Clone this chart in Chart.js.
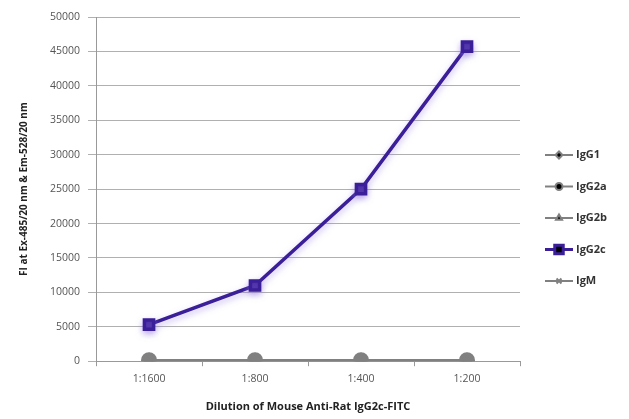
<!DOCTYPE html>
<html>
<head>
<meta charset="utf-8">
<script src="https://cdn.jsdelivr.net/npm/chart.js@4.4.0/dist/chart.umd.min.js"></script>
<style>
  html, body { margin: 0; padding: 0; background: #fff; }
  #wrap { width: 629px; height: 419px; }
</style>
</head>
<body>
<div id="wrap"><canvas id="chart1"></canvas></div>
<script>
// dilutions on the x axis
const dilutions = ['1:1600', '1:800', '1:400', '1:200'];

// fluorescence intensity per isotype
const igG1 = [150, 150, 150, 150];
const igG2a = [150, 150, 150, 150];
const igG2b = [150, 150, 150, 150];
const igG2c = [5300, 11000, 25000, 45700];
const igM = [150, 150, 150, 150];

const grey = '#808080';
const purple = '#3a1f98';

/** legend drawn at the right, line + marker + label */
const sideLegend = {
    id: 'sideLegend',
    afterDraw(chart) {
        const ctx = chart.ctx;
        const x0 = 545;
        let y = 155;
        chart.data.datasets.forEach(ds => {
            ctx.save();
            ctx.strokeStyle = ds.borderColor;
            ctx.lineWidth = ds.label === 'IgG2c' ? 3 : 2;
            ctx.beginPath();
            ctx.moveTo(x0, y);
            ctx.lineTo(x0 + 28, y);
            ctx.stroke();
            Chart.helpers.drawPoint(ctx, {
                pointStyle: ds.pointStyle,
                radius: ds.label === 'IgG2c' ? 6 : 3.5,
                rotation: 0,
                borderWidth: 1
            }, x0 + 14, y);
            ctx.fillStyle = '#333';
            ctx.font = 'bold 11px "Open Sans", sans-serif';
            ctx.textBaseline = 'middle';
            ctx.fillText(ds.label, x0 + 31, y);
            ctx.restore();
            y += 31.5;
        });
    }
};

/** soft lavender glow under the purple line */
const glow = {
    id: 'glow',
    beforeDatasetDraw(chart, args) {
        if (chart.data.datasets[args.index].label === 'IgG2c') {
            chart.ctx.save();
            chart.ctx.shadowColor = 'rgba(150,120,225,0.5)';
            chart.ctx.shadowBlur = 6;
            chart.ctx.shadowOffsetY = 3;
        }
    },
    afterDatasetDraw(chart, args) {
        if (chart.data.datasets[args.index].label === 'IgG2c') {
            chart.ctx.restore();
        }
    }
};

const ctx1 = document.getElementById('chart1').getContext('2d');

function series(label, data, color, style, radius) {
    return {
        label: label,
        data: data,
        borderColor: color,
        backgroundColor: color,
        pointBackgroundColor: color,
        pointBorderColor: color,
        pointStyle: style,
        pointRadius: radius,
        borderWidth: 2,
        tension: 0
    };
}

const myChart = new Chart(ctx1, {
    type: 'line',
    data: {
        labels: dilutions,
        datasets: [
            series('IgG1', igG1, grey, 'rectRot', 6),
            series('IgG2a', igG2a, grey, 'circle', 7),
            series('IgG2b', igG2b, grey, 'triangle', 6),
            Object.assign(series('IgG2c', igG2c, purple, 'rect', 6.5), { borderWidth: 3.5 }),
            series('IgM', igM, grey, 'crossRot', 6)
        ]
    },
    plugins: [sideLegend, glow],
    options: {
        responsive: true,
        maintainAspectRatio: false,
        animation: false,
        layout: { padding: { top: 17, right: 109, left: 14, bottom: 2 } },
        plugins: {
            legend: { display: false },
            tooltip: { enabled: false }
        },
        scales: {
            x: {
                offset: true,
                grid: {
                    display: true,
                    drawOnChartArea: false,
                    offset: true,
                    tickLength: 5,
                    color: '#999'
                },
                border: { color: '#999' },
                ticks: {
                    color: '#555',
                    font: { family: 'Open Sans', size: 10.5 },
                    padding: 7
                },
                title: {
                    display: true,
                    text: 'Dilution of Mouse Anti-Rat IgG2c-FITC',
                    color: '#222',
                    font: { family: 'Open Sans', size: 11, weight: 'bold' },
                    padding: { top: 7 }
                }
            },
            y: {
                min: 0,
                max: 50000,
                grid: {
                    color: '#b0b0b0',
                    tickLength: 8
                },
                border: { color: '#999' },
                ticks: {
                    stepSize: 5000,
                    color: '#555',
                    font: { family: 'Open Sans', size: 10.5 },
                    padding: 8,
                    callback: v => String(v)
                },
                title: {
                    display: true,
                    text: 'FI at Ex-485/20 nm & Em-528/20 nm',
                    color: '#222',
                    font: { family: 'Open Sans', size: 10, weight: 'bold' },
                    padding: { bottom: 12 }
                }
            }
        }
    }
});
</script>
</body>
</html>
